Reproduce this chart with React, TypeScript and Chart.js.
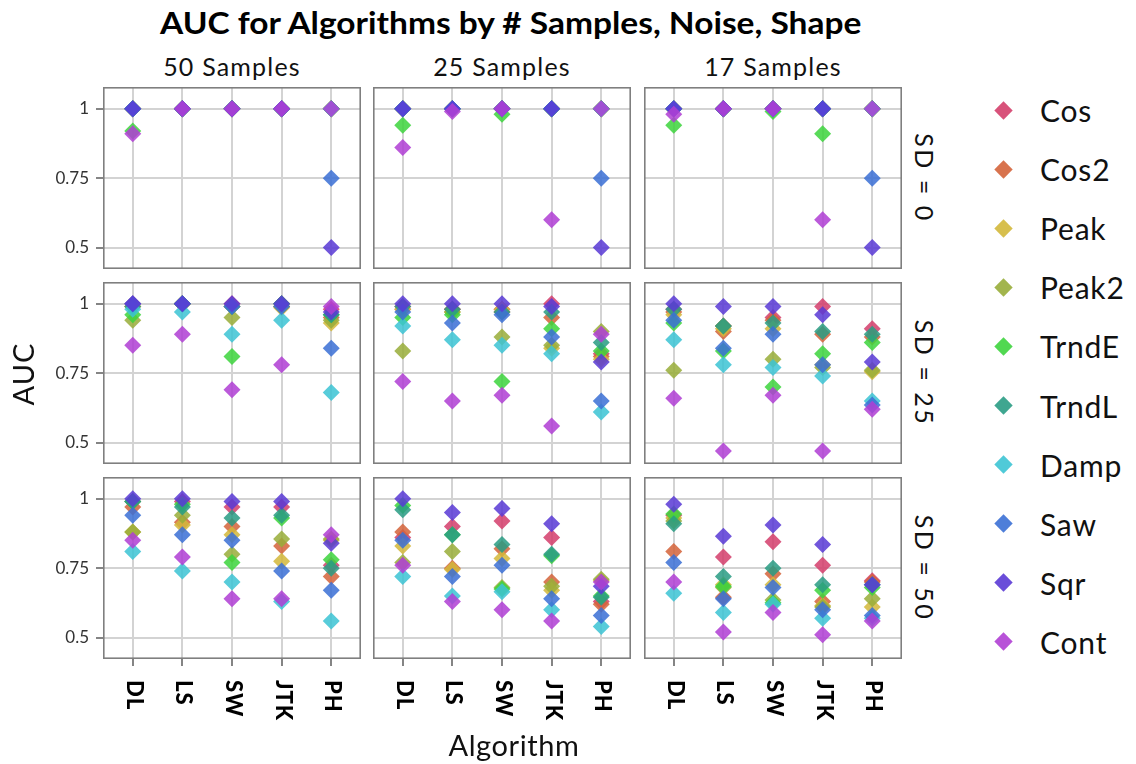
import React, { useEffect, useRef } from "react";
import { Chart, registerables } from "chart.js";

Chart.register(...registerables);

const algorithms = ["DL", "LS", "SW", "JTK", "PH"];
const sampleLabels = ["50 Samples", "25 Samples", "17 Samples"];
const noiseLabels = ["SD = 0", "SD = 25", "SD = 50"];
const shapeNames = ["Cos", "Cos2", "Peak", "Peak2", "TrndE", "TrndL", "Damp", "Saw", "Sqr", "Cont"];
const shapeColors = ["#D43F6C", "#D4643B", "#D3B83B", "#98AD3A", "#3ED43E", "#2A9C84", "#3DC4D4", "#3B70D5", "#5A3AD5", "#B03FD4"];
const yTickValues = [0.5, 0.75, 1];
const yTickLabels = ["0.5", "0.75", "1"];

// AUC per shape. One row per facet, in the order
// SD 0 (50, 25, 17 samples), SD 25 (50, 25, 17), SD 50 (50, 25, 17);
// columns follow `algorithms`.
const cosAUC = [
  [1, 1, 1, 1, 1],
  [1, 1, 1, 1, 1],
  [1, 1, 1, 1, 1],
  [1, 1, 1, 1, 0.98],
  [0.99, 0.98, 0.98, 1.0, 0.82],
  [0.98, 0.92, 0.95, 0.99, 0.91],
  [0.99, 0.99, 0.97, 0.97, 0.76],
  [0.86, 0.9, 0.92, 0.86, 0.63],
  [0.94, 0.79, 0.845, 0.76, 0.705],
];
const cos2AUC = [
  [1, 1, 1, 1, 1],
  [1, 1, 1, 1, 1],
  [1, 1, 1, 1, 1],
  [0.99, 1, 0.99, 0.99, 0.95],
  [0.98, 0.98, 0.97, 0.95, 0.81],
  [0.97, 0.9, 0.94, 0.89, 0.88],
  [0.97, 0.915, 0.9, 0.83, 0.72],
  [0.88, 0.75, 0.82, 0.7, 0.62],
  [0.81, 0.645, 0.73, 0.63, 0.7],
];
const peakAUC = [
  [1, 1, 1, 1, 1],
  [1, 1, 1, 1, 1],
  [1, 1, 1, 1, 1],
  [0.99, 1, 0.99, 0.985, 0.93],
  [0.98, 0.97, 0.98, 0.84, 0.8],
  [0.96, 0.91, 0.91, 0.78, 0.755],
  [0.88, 0.905, 0.87, 0.775, 0.85],
  [0.83, 0.745, 0.785, 0.67, 0.705],
  [0.93, 0.69, 0.69, 0.615, 0.61],
];
const peak2AUC = [
  [1, 1, 1, 1, 1],
  [1, 1, 1, 1, 1],
  [1, 1, 1, 1, 1],
  [0.94, 1, 0.95, 0.99, 0.94],
  [0.83, 0.97, 0.88, 0.85, 0.9],
  [0.76, 0.92, 0.8, 0.77, 0.76],
  [0.88, 0.94, 0.8, 0.855, 0.855],
  [0.77, 0.81, 0.68, 0.685, 0.71],
  [0.92, 0.68, 0.635, 0.61, 0.64],
];
const trndEAUC = [
  [0.92, 1, 1, 1, 1],
  [0.94, 1, 0.98, 1, 1],
  [0.94, 1, 0.99, 0.91, 1],
  [0.96, 1, 0.81, 1, 0.96],
  [0.95, 0.96, 0.72, 0.91, 0.83],
  [0.93, 0.83, 0.7, 0.82, 0.86],
  [0.99, 0.98, 0.77, 0.93, 0.78],
  [0.975, 0.87, 0.675, 0.795, 0.65],
  [0.945, 0.685, 0.625, 0.67, 0.68],
];
const trndLAUC = [
  [1, 1, 1, 1, 1],
  [1, 1, 1, 1, 1],
  [1, 1, 1, 1, 1],
  [0.99, 1, 0.99, 1, 0.96],
  [0.99, 0.98, 0.97, 0.97, 0.86],
  [0.98, 0.92, 0.93, 0.9, 0.89],
  [0.99, 0.97, 0.93, 0.94, 0.75],
  [0.96, 0.87, 0.835, 0.8, 0.645],
  [0.91, 0.72, 0.75, 0.69, 0.69],
];
const dampAUC = [
  [1, 1, 1, 1, 1],
  [1, 1, 1, 1, 1],
  [1, 1, 1, 1, 1],
  [0.98, 0.97, 0.89, 0.94, 0.68],
  [0.92, 0.87, 0.85, 0.82, 0.61],
  [0.87, 0.78, 0.77, 0.74, 0.65],
  [0.81, 0.74, 0.7, 0.63, 0.56],
  [0.72, 0.65, 0.665, 0.6, 0.54],
  [0.66, 0.59, 0.62, 0.57, 0.57],
];
const sawAUC = [
  [1, 1, 1, 1, 0.75],
  [1, 1, 1, 1, 0.75],
  [1, 1, 1, 1, 0.75],
  [1, 1, 0.99, 0.99, 0.84],
  [0.97, 0.93, 0.96, 0.88, 0.65],
  [0.94, 0.84, 0.89, 0.78, 0.635],
  [0.94, 0.87, 0.85, 0.74, 0.67],
  [0.85, 0.72, 0.76, 0.64, 0.58],
  [0.77, 0.64, 0.68, 0.6, 0.58],
];
const sqrAUC = [
  [1, 1, 1, 1, 0.5],
  [1, 1, 1, 1, 0.5],
  [1, 1, 1, 1, 0.5],
  [1, 1, 1, 1, 0.97],
  [1, 1, 1, 0.99, 0.79],
  [1, 0.99, 0.99, 0.96, 0.79],
  [1, 1, 0.99, 0.99, 0.84],
  [1, 0.95, 0.965, 0.91, 0.685],
  [0.98, 0.865, 0.905, 0.835, 0.69],
];
const contAUC = [
  [0.91, 1, 1, 1, 1],
  [0.86, 0.99, 1, 0.6, 1],
  [0.98, 1, 1, 0.6, 1],
  [0.85, 0.89, 0.69, 0.78, 0.99],
  [0.72, 0.65, 0.67, 0.56, 0.89],
  [0.66, 0.47, 0.67, 0.47, 0.62],
  [0.85, 0.79, 0.64, 0.64, 0.87],
  [0.76, 0.63, 0.6, 0.56, 0.7],
  [0.7, 0.52, 0.59, 0.51, 0.56],
];

const aucByShape = [cosAUC, cos2AUC, peakAUC, peak2AUC, trndEAUC, trndLAUC, dampAUC, sawAUC, sqrAUC, contAUC];

// facet geometry
const COL_X = [103, 373, 644];
const ROW_Y = [87, 282, 477];
const PANEL_W = 258;
const PANEL_H = 182;
const Y_AXIS_W = 100;
const X_AXIS_H = 80;
const Y_MIN = 0.423;
const Y_MAX = 1.078;

const FONT = "Lato, 'Open Sans', sans-serif";

function withAlpha(hex: string, a: number) {
  const n = parseInt(hex.slice(1), 16);
  return `rgba(${(n >> 16) & 255}, ${(n >> 8) & 255}, ${n & 255}, ${a})`;
}

const framePlugin = {
  id: "panelFrame",
  afterDraw(chart: any) {
    const { ctx, chartArea } = chart;
    ctx.save();
    ctx.strokeStyle = "#7f7f7f";
    ctx.lineWidth = 1.6;
    ctx.strokeRect(chartArea.left + 0.8, chartArea.top + 0.8, chartArea.right - chartArea.left - 1.6, chartArea.bottom - chartArea.top - 1.6);
    ctx.restore();
  },
};

const algorithmLabelPlugin = {
  id: "algorithmLabels",
  afterDraw(chart: any) {
    const { ctx, chartArea } = chart;
    const xs = chart.scales.x;
    ctx.save();
    ctx.fillStyle = "#000";
    ctx.font = `900 22px ${FONT}`;
    ctx.textAlign = "left";
    ctx.textBaseline = "middle";
    algorithms.forEach((name, j) => {
      ctx.save();
      ctx.translate(xs.getPixelForValue(j) + 1, chartArea.bottom + 21);
      ctx.rotate(Math.PI / 2);
      (ctx as any).letterSpacing = "1px";
      ctx.fillText(name, 0, 0);
      ctx.restore();
    });
    ctx.restore();
  },
};

function Panel({ row, col }: { row: number; col: number }) {
  const ref = useRef<HTMLCanvasElement>(null);
  const leftAxis = col === 0 ? Y_AXIS_W : 0;
  const bottomAxis = row === 2 ? X_AXIS_H : 0;
  const width = PANEL_W + leftAxis;
  const height = PANEL_H + bottomAxis;

  useEffect(() => {
    const facet = row * 3 + col;
    const chart = new Chart(ref.current as HTMLCanvasElement, {
      type: "scatter",
      data: {
        datasets: shapeNames.map((name, i) => ({
          label: name,
          data: aucByShape[i][facet].map((v, j) => ({ x: j, y: v })),
          backgroundColor: withAlpha(shapeColors[i], 0.86),
          pointStyle: "rectRot",
          pointRadius: 8.5,
          pointBorderWidth: 0,
          borderWidth: 0,
          order: shapeNames.length - 1 - i,
        })),
      },
      options: {
        animation: false,
        responsive: false,
        maintainAspectRatio: false,
        events: [],
        layout: { padding: 0, autoPadding: false },
        plugins: { legend: { display: false }, tooltip: { enabled: false } },
        scales: {
          x: {
            type: "linear",
            min: -0.6,
            max: 4.6,
            afterBuildTicks: (s: any) => {
              s.ticks = algorithms.map((_, j) => ({ value: j }));
            },
            afterFit: (s: any) => {
              s.height = bottomAxis;
              s.paddingLeft = 0;
              s.paddingRight = 0;
            },
            ticks: { display: false },
            border: { display: false },
            grid: {
              color: "#d3d3d3",
              lineWidth: 2,
              drawTicks: row === 2,
              tickLength: 7,
              tickColor: "#333",
              tickWidth: 1.2,
            },
          },
          y: {
            type: "linear",
            min: Y_MIN,
            max: Y_MAX,
            afterBuildTicks: (s: any) => {
              s.ticks = yTickValues.map((v) => ({ value: v }));
            },
            afterFit: (s: any) => {
              s.width = leftAxis;
              s.paddingTop = 0;
              s.paddingBottom = 0;
            },
            ticks: {
              display: col === 0,
              padding: 7,
              color: "#333",
              font: { family: FONT, size: 17 },
              callback: (v: any) => yTickLabels[yTickValues.indexOf(Number(v))],
            },
            border: { display: false },
            grid: {
              color: "#d3d3d3",
              lineWidth: 2,
              drawTicks: col === 0,
              tickLength: 7,
              tickColor: "#333",
              tickWidth: 1.2,
            },
          },
        },
      } as any,
      plugins: row === 2 ? [framePlugin, algorithmLabelPlugin] : [framePlugin],
    });
    return () => chart.destroy();
  }, [row, col]);

  return (
    <canvas
      ref={ref}
      width={width}
      height={height}
      style={{ position: "absolute", left: COL_X[col] - leftAxis, top: ROW_Y[row], width, height }}
    />
  );
}

export default function App() {
  const panels = [];
  for (let r = 0; r < 3; r++) for (let c = 0; c < 3; c++) panels.push(<Panel key={`${r}-${c}`} row={r} col={c} />);

  return (
    <div style={{ position: "absolute", left: 0, top: 0, width: 1136, height: 764, background: "#fff", fontFamily: FONT, color: "#111", overflow: "hidden" }}>
      <div style={{ position: "absolute", left: 0, width: 1022, top: 1, textAlign: "center", lineHeight: "42px", whiteSpace: "nowrap" }}>
        <span style={{ display: "inline-block", fontSize: 31, fontWeight: 700, color: "#000", transform: "scaleX(1.08)" }}>
          AUC for Algorithms by # Samples, Noise, Shape
        </span>
      </div>

      {sampleLabels.map((s, c) => (
        <div key={s} style={{ position: "absolute", left: COL_X[c], width: PANEL_W, top: 50, textAlign: "center", fontSize: 25, letterSpacing: "1.2px", lineHeight: "32px" }}>
          {s}
        </div>
      ))}

      {noiseLabels.map((s, r) => (
        <div
          key={s}
          style={{
            position: "absolute",
            left: 925 - PANEL_H / 2,
            top: ROW_Y[r] + PANEL_H / 2 - 16,
            width: PANEL_H,
            height: 32,
            lineHeight: "32px",
            textAlign: "center",
            fontSize: 25,
            letterSpacing: "2.5px",
            transform: "rotate(90deg)",
          }}
        >
          {s}
        </div>
      ))}

      {panels}

      <div style={{ position: "absolute", left: 23 - 60, top: 374 - 16, width: 120, height: 32, lineHeight: "32px", textAlign: "center", fontSize: 29, letterSpacing: "1px", transform: "rotate(-90deg)" }}>
        AUC
      </div>
      <div style={{ position: "absolute", left: 414, width: 200, top: 728, textAlign: "center", fontSize: 29, letterSpacing: "0.6px", lineHeight: "34px" }}>
        Algorithm
      </div>

      {shapeNames.map((name, i) => {
        const cy = 110 + i * 59.1;
        return (
          <React.Fragment key={name}>
            <div style={{ position: "absolute", left: 1003 - 6.5, top: cy - 6.5, width: 13, height: 13, background: withAlpha(shapeColors[i], 0.9), transform: "rotate(45deg)" }} />
            <div style={{ position: "absolute", left: 1040, top: cy - 19, height: 38, lineHeight: "38px", fontSize: 30, letterSpacing: "0.8px", whiteSpace: "nowrap" }}>{name}</div>
          </React.Fragment>
        );
      })}
    </div>
  );
}
